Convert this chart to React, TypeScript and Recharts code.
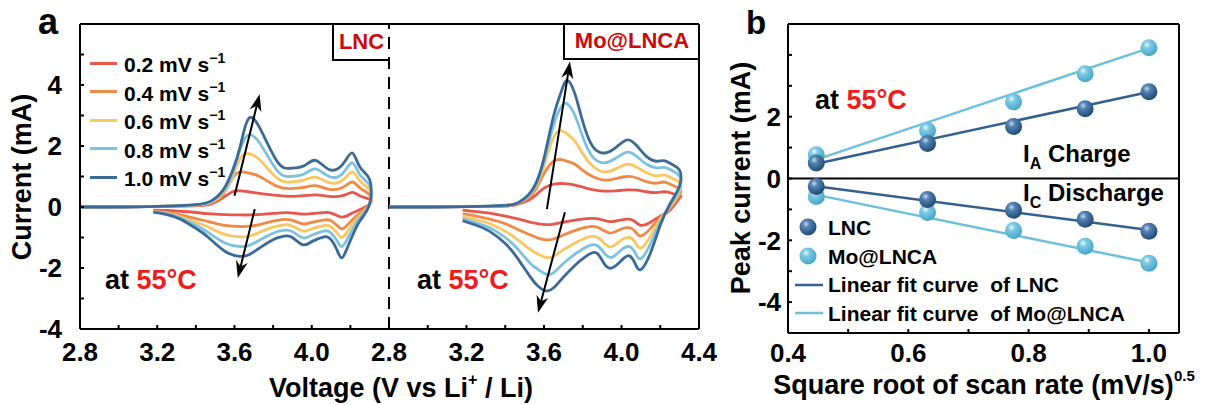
import React from 'react';
import { ComposedChart, Line, Scatter, XAxis, YAxis, ReferenceLine } from 'recharts';

const FONT = '"Liberation Sans", Arial, Helvetica, sans-serif';

const scanRates = ['0.2', '0.4', '0.6', '0.8', '1.0'];
const rateColors = ['#e8574c', '#f08a47', '#f9c762', '#7cc2df', '#3b6a99'];

// LNC, anodic sweep (voltage going up), one row per scan rate
const lncAnodicV = [2.8, 3.0, 3.2, 3.4, 3.48, 3.54, 3.59, 3.63, 3.67, 3.73, 3.82, 3.89, 3.96, 4.02, 4.09, 4.16, 4.21, 4.25, 4.3];
const lncAnodicI = [
  [0, 0, 0.02, 0.04, 0.1, 0.3, 0.5, 0.53, 0.5, 0.45, 0.38, 0.35, 0.37, 0.4, 0.35, 0.37, 0.48, 0.36, 0.25],
  [0, 0, 0.02, 0.05, 0.14, 0.4, 0.95, 1.15, 1.12, 1.0, 0.68, 0.6, 0.64, 0.7, 0.58, 0.64, 0.82, 0.62, 0.4],
  [0, 0, 0.02, 0.06, 0.16, 0.45, 1.0, 1.6, 1.75, 1.55, 0.95, 0.82, 0.88, 0.98, 0.8, 0.88, 1.15, 0.85, 0.55],
  [0, 0, 0.02, 0.07, 0.18, 0.5, 1.1, 1.9, 2.35, 2.1, 1.2, 1.0, 1.08, 1.25, 1.0, 1.1, 1.45, 1.05, 0.7],
  [0, 0, 0.02, 0.08, 0.2, 0.55, 1.2, 2.0, 2.87, 2.6, 1.5, 1.27, 1.35, 1.53, 1.23, 1.4, 1.77, 1.3, 0.9],
];
// LNC, cathodic sweep (voltage going down)
const lncCathodicV = [4.3, 4.25, 4.21, 4.18, 4.155, 4.13, 4.1, 4.07, 4.03, 3.99, 3.95, 3.89, 3.84, 3.8, 3.74, 3.68, 3.63, 3.55, 3.46, 3.4, 3.32, 3.25, 3.18];
const lncCathodicI = [
  [0.1, -0.08, -0.2, -0.3, -0.33, -0.28, -0.2, -0.18, -0.2, -0.22, -0.23, -0.19, -0.19, -0.21, -0.24, -0.26, -0.26, -0.25, -0.22, -0.18, -0.14, -0.11, -0.1],
  [0.1, -0.2, -0.42, -0.62, -0.72, -0.6, -0.45, -0.42, -0.46, -0.52, -0.55, -0.42, -0.42, -0.46, -0.56, -0.63, -0.64, -0.6, -0.47, -0.38, -0.26, -0.18, -0.14],
  [0.1, -0.28, -0.58, -0.85, -1.0, -0.85, -0.65, -0.6, -0.66, -0.74, -0.78, -0.6, -0.6, -0.66, -0.8, -0.95, -0.98, -0.9, -0.65, -0.5, -0.32, -0.2, -0.15],
  [0.1, -0.35, -0.75, -1.1, -1.3, -1.1, -0.85, -0.78, -0.85, -0.95, -1.0, -0.78, -0.78, -0.86, -1.05, -1.25, -1.3, -1.18, -0.82, -0.6, -0.36, -0.22, -0.16],
  [0.1, -0.45, -0.95, -1.4, -1.67, -1.4, -1.07, -0.97, -1.05, -1.17, -1.23, -0.97, -0.98, -1.07, -1.3, -1.55, -1.62, -1.45, -0.97, -0.7, -0.4, -0.25, -0.17],
];

// Mo@LNCA
const moAnodicV = [2.8, 3.0, 3.2, 3.4, 3.47, 3.52, 3.56, 3.6, 3.65, 3.69, 3.72, 3.76, 3.8, 3.85, 3.91, 3.97, 4.03, 4.08, 4.13, 4.18, 4.22, 4.26, 4.3];
const moAnodicI = [
  [0, 0, 0.01, 0.03, 0.1, 0.22, 0.4, 0.62, 0.75, 0.77, 0.76, 0.72, 0.65, 0.57, 0.52, 0.53, 0.56, 0.55, 0.5, 0.47, 0.5, 0.45, 0.35],
  [0, 0, 0.01, 0.04, 0.12, 0.3, 0.6, 1.1, 1.5, 1.55, 1.5, 1.4, 1.2, 1.0, 0.88, 0.93, 1.0, 0.95, 0.83, 0.78, 0.82, 0.72, 0.6],
  [0, 0, 0.01, 0.05, 0.14, 0.35, 0.7, 1.35, 2.3, 2.5, 2.4, 2.15, 1.75, 1.35, 1.15, 1.25, 1.4, 1.3, 1.12, 1.02, 1.05, 0.95, 0.8],
  [0, 0, 0.01, 0.05, 0.15, 0.38, 0.75, 1.5, 2.7, 3.3, 3.38, 3.0, 2.3, 1.65, 1.45, 1.6, 1.8, 1.65, 1.4, 1.28, 1.3, 1.2, 1.0],
  [0, 0, 0.01, 0.05, 0.15, 0.4, 0.8, 1.6, 3.0, 3.8, 4.15, 3.7, 2.8, 2.0, 1.77, 1.95, 2.2, 2.0, 1.65, 1.5, 1.52, 1.4, 1.2],
];
const moCathodicV = [4.3, 4.25, 4.2, 4.15, 4.1, 4.07, 4.04, 4.0, 3.95, 3.91, 3.87, 3.82, 3.77, 3.7, 3.65, 3.61, 3.57, 3.53, 3.46, 3.4, 3.32, 3.25, 3.18];
const moCathodicI = [
  [0.3, -0.1, -0.3, -0.5, -0.6, -0.48, -0.4, -0.42, -0.48, -0.44, -0.38, -0.38, -0.42, -0.5, -0.56, -0.58, -0.55, -0.5, -0.38, -0.3, -0.2, -0.15, -0.1],
  [0.4, -0.05, -0.35, -0.7, -0.95, -0.8, -0.68, -0.72, -0.85, -0.78, -0.65, -0.66, -0.75, -0.92, -1.05, -1.08, -1.02, -0.92, -0.72, -0.55, -0.4, -0.3, -0.22],
  [0.5, 0.0, -0.4, -0.95, -1.35, -1.15, -1.0, -1.08, -1.3, -1.18, -0.98, -1.0, -1.15, -1.4, -1.62, -1.65, -1.55, -1.4, -1.05, -0.8, -0.55, -0.42, -0.3],
  [0.6, 0.05, -0.5, -1.2, -1.7, -1.5, -1.3, -1.4, -1.65, -1.5, -1.25, -1.3, -1.5, -1.85, -2.15, -2.2, -2.05, -1.85, -1.35, -1.0, -0.68, -0.52, -0.38],
  [0.7, 0.1, -0.6, -1.5, -2.05, -1.85, -1.6, -1.75, -2.0, -1.85, -1.5, -1.6, -1.85, -2.3, -2.65, -2.75, -2.6, -2.3, -1.65, -1.2, -0.8, -0.6, -0.45],
];

// arrows in panel a (data coordinates)
const lncArrowUp = [{ x: 3.6, y: 0.37 }, { x: 3.73, y: 3.7 }];
const lncArrowDown = [{ x: 3.705, y: -0.07 }, { x: 3.617, y: -2.33 }];
const moArrowUp = [{ x: 3.615, y: -0.07 }, { x: 3.734, y: 4.77 }];
const moArrowDown = [{ x: 3.708, y: -0.17 }, { x: 3.569, y: -3.47 }];

// panel b
const rootScanRate = [0.447, 0.632, 0.775, 0.894, 1.0];
const lncCharge = [0.5, 1.13, 1.68, 2.26, 2.81];
const moCharge = [0.77, 1.55, 2.48, 3.39, 4.23];
const lncDischarge = [-0.26, -0.68, -1.03, -1.32, -1.71];
const moDischarge = [-0.58, -1.1, -1.68, -2.19, -2.74];
const fitX = [0.447, 1.0];
const lncChargeFit = [0.48, 2.8];
const moChargeFit = [0.61, 4.22];
const lncDischargeFit = [-0.25, -1.67];
const moDischargeFit = [-0.53, -2.72];

const voltTicks = [2.8, 3.0, 3.2, 3.4, 3.6, 3.8, 4.0, 4.2, 4.4];
const currentTicks = [-4, -3, -2, -1, 0, 1, 2, 3, 4, 5];
const rateTicks = [0.4, 0.5, 0.6, 0.7, 0.8, 0.9, 1.0];
const peakTicks = [-4, -3, -2, -1, 0, 1, 2, 3, 4];

const buildLoop = (va: number[], ia: number[], vc: number[], ic: number[]) => [
  ...va.map((v, k) => ({ v, i: ia[k] })),
  ...vc.map((v, k) => ({ v, i: ic[k] })),
];
const lncLoops = scanRates.map((_, r) => buildLoop(lncAnodicV, lncAnodicI[r], lncCathodicV, lncCathodicI[r]));
const moLoops = scanRates.map((_, r) => buildLoop(moAnodicV, moAnodicI[r], moCathodicV, moCathodicI[r]));
const pts = (xs: number[], ys: number[]) => xs.map((x, k) => ({ x, y: ys[k] }));

const DARK = '#33618f';
const LIGHT = '#6cc0dc';
const axisStyle = { stroke: '#000', strokeWidth: 2 };
const tickFont = (size: number) => ({ fill: '#000', fontSize: size, fontWeight: 700, fontFamily: FONT });

const Arrow = (p: any) => {
  const { x1, y1, x2, y2 } = p;
  const dx = x2 - x1;
  const dy = y2 - y1;
  const len = Math.hypot(dx, dy) || 1;
  const ux = dx / len;
  const uy = dy / len;
  const hl = 17;
  const hw = 6;
  const bx = x2 - ux * hl;
  const by = y2 - uy * hl;
  const nx = x2 - ux * (hl - 5);
  const ny = y2 - uy * (hl - 5);
  return (
    <g>
      <line x1={x1} y1={y1} x2={nx} y2={ny} stroke="#000" strokeWidth={2} />
      <polygon
        points={`${x2},${y2} ${bx - uy * hw},${by + ux * hw} ${nx},${ny} ${bx + uy * hw},${by - ux * hw}`}
        fill="#000"
      />
    </g>
  );
};

const Ball = ({ cx, cy, id }: any) => <circle cx={cx} cy={cy} r={8.5} fill={`url(#${id})`} />;

const BallDefs = ({ suffix }: { suffix: string }) => (
  <defs>
    <radialGradient id={`ballDark${suffix}`} cx="38%" cy="32%" r="68%">
      <stop offset="0%" stopColor="#c6d8ec" />
      <stop offset="30%" stopColor="#5483b2" />
      <stop offset="100%" stopColor="#1f4a77" />
    </radialGradient>
    <radialGradient id={`ballLight${suffix}`} cx="38%" cy="32%" r="68%">
      <stop offset="0%" stopColor="#eefaff" />
      <stop offset="30%" stopColor="#7dcbe3" />
      <stop offset="100%" stopColor="#45a6c8" />
    </radialGradient>
  </defs>
);

const Txt = ({ x, y, size, children, color = '#000', anchor = 'center' }: any) => (
  <div
    style={{
      position: 'absolute',
      left: x,
      top: y,
      transform: anchor === 'center' ? 'translate(-50%, -50%)' : 'translate(0, -50%)',
      fontSize: size,
      lineHeight: 1,
      whiteSpace: 'nowrap',
      color,
    }}
  >
    {children}
  </div>
);

const Hot = ({ children }: any) => <span style={{ color: '#ee1c1c' }}>{children}</span>;

const CvPanel = ({ loops, arrows, lastLabel }: any) => {
  const labelled = lastLabel ? ['2.8', '3.2', '3.6', '4.0', '4.4'] : ['2.8', '3.2', '3.6', '4.0'];
  return (
    <>
      <XAxis
        dataKey="v"
        type="number"
        domain={[2.8, 4.4]}
        ticks={voltTicks}
        interval={0}
        allowDataOverflow
        height={30}
        tickSize={-4}
        tickMargin={18}
        tickFormatter={(t: number) => (labelled.includes(t.toFixed(1)) ? t.toFixed(1) : '')}
        axisLine={axisStyle}
        tickLine={axisStyle}
        tick={tickFont(26)}
      />
      {loops.map((d: any, r: number) => (
        <Line
          key={r}
          data={d}
          dataKey="i"
          type="natural"
          stroke={rateColors[r]}
          strokeWidth={2.8}
          dot={false}
          activeDot={false}
          isAnimationActive={false}
        />
      ))}
      {arrows.map((seg: any, k: number) => (
        <ReferenceLine key={k} segment={seg} shape={Arrow} ifOverflow="visible" />
      ))}
      <ReferenceLine y={6} stroke="#000" strokeWidth={2} />
    </>
  );
};

export default function App() {
  return (
    <div
      style={{
        position: 'relative',
        width: 1212,
        height: 405,
        background: '#fff',
        fontFamily: FONT,
        fontWeight: 700,
        overflow: 'hidden',
      }}
    >
      <style>{'body{margin:0}'}</style>

      {/* panel a, LNC */}
      <div style={{ position: 'absolute', left: 0, top: 0 }}>
        <ComposedChart width={400} height={405} margin={{ top: 24, right: 11, bottom: 46, left: 20 }}>
          {CvPanel({ loops: lncLoops, arrows: [lncArrowUp, lncArrowDown], lastLabel: false })}
          <YAxis
            type="number"
            domain={[-4, 6]}
            ticks={currentTicks}
            interval={0}
            allowDataOverflow
            width={60}
            tickSize={-4}
            tickMargin={22}
            tickFormatter={(t: number) => (t % 2 === 0 ? String(t) : '')}
            axisLine={axisStyle}
            tickLine={axisStyle}
            tick={tickFont(26)}
          />
          <ReferenceLine x={4.4} stroke="#000" strokeWidth={2} strokeDasharray="12 8" />
        </ComposedChart>
      </div>

      {/* panel a, Mo@LNCA */}
      <div style={{ position: 'absolute', left: 360, top: 0 }}>
        <ComposedChart width={380} height={405} margin={{ top: 24, right: 41, bottom: 46, left: 29 }}>
          {CvPanel({ loops: moLoops, arrows: [moArrowUp, moArrowDown], lastLabel: true })}
          <YAxis type="number" domain={[-4, 6]} allowDataOverflow hide />
          <ReferenceLine x={4.4} stroke="#000" strokeWidth={2} />
        </ComposedChart>
      </div>

      {/* panel b */}
      <div style={{ position: 'absolute', left: 720, top: 0 }}>
        <ComposedChart width={492} height={405} margin={{ top: 24, right: 33, bottom: 42, left: 18 }}>
          <BallDefs suffix="B" />
          <XAxis
            dataKey="x"
            type="number"
            domain={[0.4, 1.05]}
            ticks={rateTicks}
            interval={0}
            allowDataOverflow
            height={30}
            tickSize={-4}
            tickMargin={15}
            tickFormatter={(t: number) => (['0.4', '0.6', '0.8', '1.0'].includes(t.toFixed(1)) ? t.toFixed(1) : '')}
            axisLine={axisStyle}
            tickLine={axisStyle}
            tick={tickFont(26)}
          />
          <YAxis
            dataKey="y"
            type="number"
            domain={[-5, 5]}
            ticks={peakTicks}
            interval={0}
            allowDataOverflow
            width={50}
            tickSize={-4}
            tickMargin={11}
            tickFormatter={(t: number) => (t % 2 === 0 && t < 4 ? String(t) : '')}
            axisLine={axisStyle}
            tickLine={axisStyle}
            tick={tickFont(26)}
          />
          <ReferenceLine y={0} stroke="#000" strokeWidth={2} />
          <ReferenceLine y={5} stroke="#000" strokeWidth={2} />
          <ReferenceLine x={1.05} stroke="#000" strokeWidth={2} />
          <Line data={pts(fitX, lncChargeFit)} dataKey="y" stroke={DARK} strokeWidth={2.5} dot={false} isAnimationActive={false} />
          <Line data={pts(fitX, moChargeFit)} dataKey="y" stroke={LIGHT} strokeWidth={2.5} dot={false} isAnimationActive={false} />
          <Line data={pts(fitX, lncDischargeFit)} dataKey="y" stroke={DARK} strokeWidth={2.5} dot={false} isAnimationActive={false} />
          <Line data={pts(fitX, moDischargeFit)} dataKey="y" stroke={LIGHT} strokeWidth={2.5} dot={false} isAnimationActive={false} />
          <Scatter data={pts(rootScanRate, moCharge)} shape={(p: any) => <Ball {...p} id="ballLightB" />} isAnimationActive={false} />
          <Scatter data={pts(rootScanRate, lncCharge)} shape={(p: any) => <Ball {...p} id="ballDarkB" />} isAnimationActive={false} />
          <Scatter data={pts(rootScanRate, moDischarge)} shape={(p: any) => <Ball {...p} id="ballLightB" />} isAnimationActive={false} />
          <Scatter data={pts(rootScanRate, lncDischarge)} shape={(p: any) => <Ball {...p} id="ballDarkB" />} isAnimationActive={false} />
        </ComposedChart>
      </div>

      {/* panel letters */}
      <Txt x={48} y={22} size={36}>a</Txt>
      <Txt x={756} y={22} size={33}>b</Txt>

      {/* sample boxes */}
      <div style={{ position: 'absolute', left: 332, top: 24, width: 57, height: 37, boxSizing: 'border-box', border: '2px solid #000', borderTop: 'none', borderRight: 'none', color: '#cc0a0a', fontSize: 22, display: 'flex', alignItems: 'center', justifyContent: 'center' }}>LNC</div>
      <div style={{ position: 'absolute', left: 563, top: 24, width: 136, height: 36, boxSizing: 'border-box', border: '2px solid #000', borderTop: 'none', borderRight: 'none', color: '#cc0a0a', fontSize: 22, display: 'flex', alignItems: 'center', justifyContent: 'center' }}>Mo@LNCA</div>

      {/* legend a */}
      {scanRates.map((s, r) => (
        <div key={s} style={{ position: 'absolute', left: 90, top: 63 + r * 28.5, transform: 'translateY(-50%)', display: 'flex', alignItems: 'center', fontSize: 21, lineHeight: 1, whiteSpace: 'nowrap' }}>
          <div style={{ width: 27, height: 3, background: rateColors[r], marginRight: 7 }} />
          <span>
            {s} mV s<span style={{ fontSize: 14, verticalAlign: 9 }}>−1</span>
          </span>
        </div>
      ))}

      <Txt x={105} y={280} size={27} anchor="left">at <Hot>55°C</Hot></Txt>
      <Txt x={417} y={280} size={27} anchor="left">at <Hot>55°C</Hot></Txt>
      <Txt x={815} y={100} size={27} anchor="left">at <Hot>55°C</Hot></Txt>

      {/* axis titles a */}
      <Txt x={401} y={387} size={27}>
        Voltage (V vs Li<span style={{ fontSize: 16, verticalAlign: 12 }}>+</span> / Li)
      </Txt>
      <div style={{ position: 'absolute', left: 22, top: 177, transform: 'translate(-50%, -50%) rotate(-90deg)', fontSize: 27, lineHeight: 1, whiteSpace: 'nowrap' }}>
        Current (mA)
      </div>

      {/* panel b texts */}
      <Txt x={1023} y={157} size={24} anchor="left">
        I<span style={{ fontSize: 16, verticalAlign: -7 }}>A</span> Charge
      </Txt>
      <Txt x={1023} y={196} size={24} anchor="left">
        I<span style={{ fontSize: 16, verticalAlign: -7 }}>C</span> Discharge
      </Txt>
      <div style={{ position: 'absolute', left: 741, top: 178, transform: 'translate(-50%, -50%) rotate(-90deg)', fontSize: 27, lineHeight: 1, whiteSpace: 'nowrap' }}>
        Peak current (mA)
      </div>
      <Txt x={984} y={383} size={27}>
        Square root of scan rate (mV/s)<span style={{ fontSize: 15, verticalAlign: 13 }}>0.5</span>
      </Txt>

      {/* legend b */}
      <svg style={{ position: 'absolute', left: 790, top: 212 }} width={40} height={116}>
        <BallDefs suffix="L" />
        <Ball cx={18} cy={15} id="ballDarkL" />
        <Ball cx={18} cy={44} id="ballLightL" />
        <line x1={5} y1={73} x2={33} y2={73} stroke={DARK} strokeWidth={2.5} />
        <line x1={5} y1={101} x2={33} y2={101} stroke={LIGHT} strokeWidth={2.5} />
      </svg>
      {['LNC', 'Mo@LNCA', 'Linear fit curve  of LNC', 'Linear fit curve  of Mo@LNCA'].map((s, k) => (
        <Txt key={s} x={828} y={227 + k * 28.7} size={21} anchor="left">
          <span style={{ whiteSpace: 'pre' }}>{s}</span>
        </Txt>
      ))}
    </div>
  );
}
